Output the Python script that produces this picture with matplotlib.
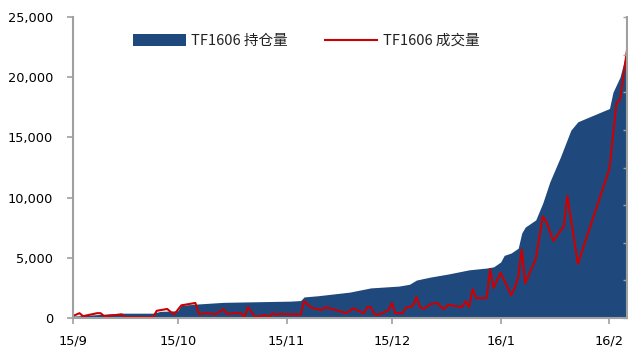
"""
TF1606 持仓量 / 成交量 の推移
"""

import matplotlib
matplotlib.use('Agg')
import matplotlib.pyplot as plt
import matplotlib.dates as mdates
from matplotlib.ticker import FuncFormatter, FixedLocator
import pandas as pd

# 持仓量 (area)
oi_dates = ['2015-09-01', '2015-09-09', '2015-09-15', '2015-09-24', '2015-09-26',
            '2015-10-01', '2015-10-02', '2015-10-06', '2015-10-14', '2015-11-02',
            '2015-11-05', '2015-11-06', '2015-11-10', '2015-11-19', '2015-11-25',
            '2015-12-03', '2015-12-06', '2015-12-08', '2015-12-12', '2015-12-17',
            '2015-12-23', '2015-12-28', '2015-12-30', '2016-01-01', '2016-01-02',
            '2016-01-04', '2016-01-06', '2016-01-07', '2016-01-08', '2016-01-11',
            '2016-01-13', '2016-01-15', '2016-01-18', '2016-01-21', '2016-01-23',
            '2016-02-01', '2016-02-02', '2016-02-04', '2016-02-06']
oi_values = [150, 300, 400, 400, 550,
             600, 1050, 1150, 1300, 1400,
             1450, 1750, 1850, 2150, 2500,
             2650, 2800, 3150, 3400, 3650,
             4000, 4150, 4250, 4650, 5200,
             5400, 5800, 7050, 7550, 8150,
             9550, 11300, 13350, 15600, 16300,
             17400, 18750, 20000, 22250]

# 成交量 (line)
vol_dates = ['2015-09-01', '2015-09-03', '2015-09-04', '2015-09-08', '2015-09-09',
             '2015-09-10', '2015-09-15', '2015-09-16', '2015-09-24', '2015-09-25',
             '2015-09-28', '2015-09-29', '2015-09-30', '2015-10-02', '2015-10-06',
             '2015-10-07', '2015-10-09', '2015-10-12', '2015-10-14', '2015-10-15',
             '2015-10-17', '2015-10-19', '2015-10-20', '2015-10-21', '2015-10-23',
             '2015-10-26', '2015-10-27', '2015-10-28', '2015-10-29', '2015-10-30',
             '2015-11-02', '2015-11-05', '2015-11-06', '2015-11-08', '2015-11-11',
             '2015-11-12', '2015-11-14', '2015-11-18', '2015-11-20', '2015-11-23',
             '2015-11-24', '2015-11-25', '2015-11-26', '2015-11-27', '2015-11-30',
             '2015-12-01', '2015-12-02', '2015-12-04', '2015-12-05', '2015-12-07',
             '2015-12-08', '2015-12-09', '2015-12-10', '2015-12-12', '2015-12-14',
             '2015-12-15', '2015-12-16', '2015-12-17', '2015-12-21', '2015-12-22',
             '2015-12-23', '2015-12-24', '2015-12-25', '2015-12-28', '2015-12-29',
             '2015-12-30', '2015-12-31', '2016-01-01', '2016-01-04', '2016-01-05',
             '2016-01-06', '2016-01-07', '2016-01-08', '2016-01-11', '2016-01-13',
             '2016-01-14', '2016-01-16', '2016-01-19', '2016-01-20', '2016-01-23',
             '2016-02-01', '2016-02-03', '2016-02-04', '2016-02-06']
vol_values = [150, 400, 150, 400, 400,
              150, 300, 80, 80, 600,
              750, 500, 300, 1050, 1250,
              330, 400, 330, 750, 330,
              400, 400, 80, 900, 80,
              250, 80, 400, 250, 350,
              300, 300, 1400, 850, 650,
              900, 750, 400, 800, 400,
              900, 900, 330, 250, 650,
              1250, 400, 400, 850, 1000,
              1750, 900, 750, 1150, 1250,
              900, 750, 1100, 900, 1400,
              900, 2400, 1650, 1650, 4050,
              2500, 3150, 3750, 1900, 2500,
              3400, 5700, 2900, 4900, 8450,
              8000, 6400, 7650, 10150, 4500,
              12400, 17850, 18100, 22250]

month_ticks = ['2015-09-01', '2015-10-01', '2015-11-01', '2015-12-01', '2016-01-01', '2016-02-01']
month_labels = ['15/9', '15/10', '15/11', '15/12', '16/1', '16/2']

oi_x = pd.to_datetime(oi_dates)
vol_x = pd.to_datetime(vol_dates)

fig = plt.figure(figsize=(6.28, 3.54), dpi=100)
ax = fig.add_axes([72.5 / 628, 1 - 318 / 354, (627 - 72.5) / 628, 301 / 354])

grey = '#A0A0A0'

ax.fill_between(oi_x, oi_values, 0, color='#1F497D', linewidth=0, label='TF1606 持仓量')
ax.plot(vol_x, vol_values, color='#CC0000', linewidth=1.5, label='TF1606 成交量')

ax.set_xlim(pd.Timestamp('2015-09-01'), pd.Timestamp('2016-02-06'))
ax.set_ylim(0, 25000)
ax.set_yticks(range(0, 25001, 5000))
ax.yaxis.set_major_formatter(FuncFormatter(lambda v, p: f'{v:,.0f}'))
ax.set_xticks(mdates.date2num(pd.to_datetime(month_ticks)))
ax.set_xticklabels(month_labels)

for side in ['top', 'right']:
    ax.spines[side].set_visible(False)
for side in ['left', 'bottom']:
    ax.spines[side].set_color(grey)
    ax.spines[side].set_linewidth(1.5)
    ax.spines[side].set_zorder(5)

ax.tick_params(axis='y', direction='out', length=4, width=1.2, color=grey,
               labelsize=9.3, pad=10, labelcolor='black')
ax.tick_params(axis='x', direction='out', length=4, width=1.2, color=grey,
               labelsize=9.3, pad=8, labelcolor='black')

# 右側の副軸（ラベルは画面外）
ax2 = ax.twinx()
ax2.set_ylim(0, 8)
ax2.yaxis.set_major_locator(FixedLocator(range(0, 9)))
ax2.tick_params(axis='y', direction='in', length=3, width=1.0, color=grey, labelright=False)
for side in ['top', 'left', 'bottom']:
    ax2.spines[side].set_visible(False)
ax2.spines['right'].set_color(grey)
ax2.spines['right'].set_linewidth(1.5)

h, l = ax.get_legend_handles_labels()
fig.legend(h, l, loc='center left', bbox_to_anchor=(133 / 628, 1 - 41 / 354),
           ncol=2, frameon=False, borderpad=0, borderaxespad=0,
           handlelength=3.6, handleheight=0.85, handletextpad=0.4, columnspacing=2.5,
           labelcolor='#222222',
           prop={'family': ['Noto Sans CJK SC', 'DejaVu Sans'], 'size': 10.5})

plt.savefig('out.png', dpi=100)
plt.close(fig)
